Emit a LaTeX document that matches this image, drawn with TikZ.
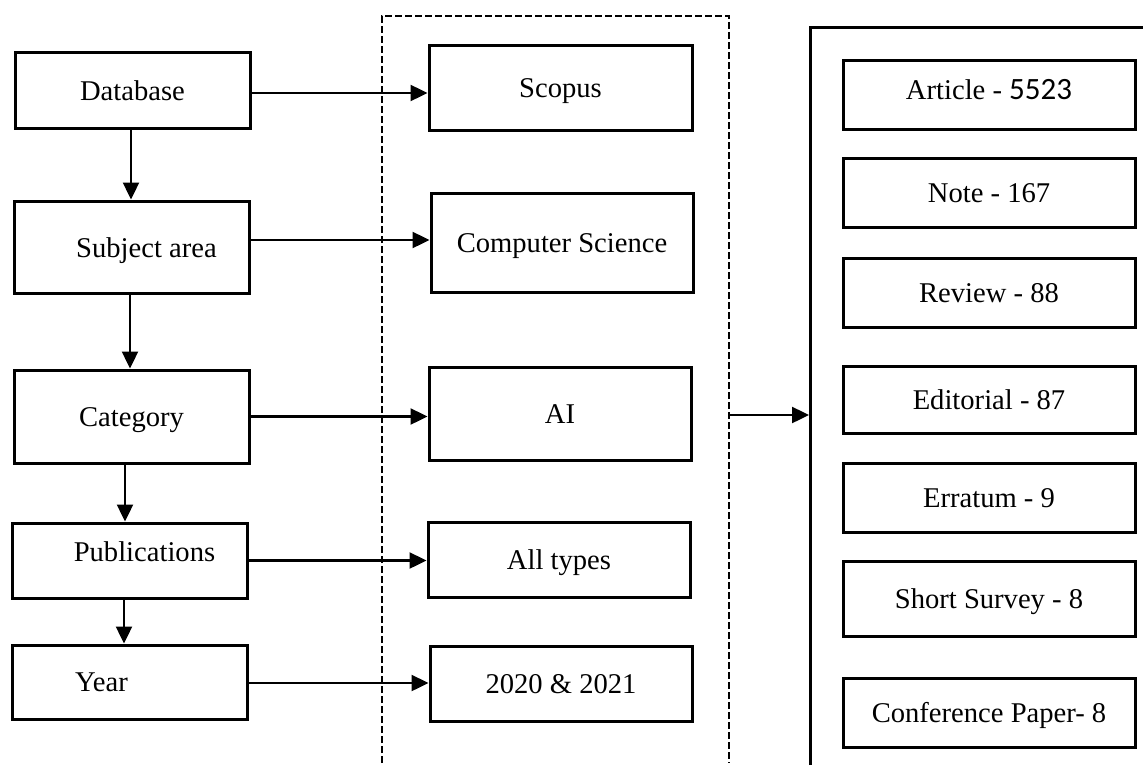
\documentclass[tikz,border=0pt]{standalone}
\usepackage{fontspec}
\setmainfont{Liberation Serif}
\newfontfamily\numfont{Carlito}
\usetikzlibrary{arrows.meta}
\tikzset{
  bx/.style={draw=black, line width=1.5pt, rectangle, inner sep=0pt, text height=9.5pt, text depth=0pt, font=\fontsize{14.3}{17}\selectfont},
  arr/.style={line width=1.2pt, -{Triangle[length=8.5pt,width=8pt]}},
  dsh/.style={line width=1.1pt, dash pattern=on 3.5pt off 1.5pt},
  frame/.style={line width=1.5pt}
}
\begin{document}
\begin{tikzpicture}[x=0.5pt,y=-0.5pt]
\useasboundingbox (0,0) rectangle (1143,765);
% left column
\node[bx, minimum width=117.5pt, minimum height=37.5pt] (db) at (132.5,90.5) {Database};
\node[bx, minimum width=117.5pt, minimum height=46pt] (sub) at (131.5,247) {\raisebox{-0.5pt}{\hspace*{15pt}Subject area}};
\node[bx, minimum width=117.5pt, minimum height=46.5pt] (cat) at (131.5,416.5) {Category};
\node[bx, minimum width=117.5pt, minimum height=37.5pt] (pub) at (129.5,560.5) {\raisebox{4.5pt}{\hspace*{15pt}Publications}};
\node[bx, minimum width=117.5pt, minimum height=37pt] (year) at (129.5,682) {Year\hspace*{28pt}};
% middle column
\node[bx, minimum width=131.5pt, minimum height=42pt] (scopus) at (560.5,88) {Scopus};
\node[bx, minimum width=131pt, minimum height=49.5pt] (cs) at (562,242.5) {Computer Science};
\node[bx, minimum width=131pt, minimum height=46.5pt] (ai) at (560,413.5) {AI};
\node[bx, minimum width=131pt, minimum height=37.5pt] (all) at (559,559.5) {All types};
\node[bx, minimum width=131pt, minimum height=37.5pt] (yrs) at (561,683.5) {2020 \& 2021};
% dashed frame
\coordinate (dBL) at (382,763);
\coordinate (dTL) at (382,16);
\coordinate (dTR) at (729,16);
\coordinate (dBR) at (729,763);
\draw[dsh] (dBL) -- (dTL) -- (dTR) -- (dBR);
% right frame
\coordinate (rBL) at (810,765);
\coordinate (rTL) at (810,28);
\coordinate (rTR) at (1143,28);
\draw[frame] (rBL) -- (rTL) -- (rTR);
% right column
\node[bx, minimum width=146pt, minimum height=34pt] (art) at (989,95) {\raisebox{2.5pt}{Article - {\numfont\fontsize{15.5}{17}\selectfont 5523}}};
\node[bx, minimum width=146pt, minimum height=34.5pt] (note) at (989,192.5) {Note - 167};
\node[bx, minimum width=146pt, minimum height=34.5pt] (rev) at (989,292.5) {Review - 88};
\node[bx, minimum width=146pt, minimum height=33.5pt] (edi) at (989,399.5) {Editorial - 87};
\node[bx, minimum width=146pt, minimum height=34.5pt] (err) at (989,497.5) {Erratum - 9};
\node[bx, minimum width=146pt, minimum height=37.5pt] (ss) at (989,598.5) {Short Survey - 8};
\node[bx, minimum width=146pt, minimum height=34.5pt] (conf) at (989,712.5) {Conference Paper- 8};
% vertical arrows
\draw[arr] ([xshift=-0.75pt]db.south) -- ([xshift=-0.75pt]db.south |- sub.north);
\draw[arr] ([xshift=-0.75pt]sub.south) -- ([xshift=-0.75pt]sub.south |- cat.north);
\draw[arr] ([xshift=-3.25pt]cat.south) -- ([xshift=-3.25pt]cat.south |- pub.north);
\draw[arr] ([xshift=-2.75pt]pub.south) -- ([xshift=-2.75pt]pub.south |- year.north);
% horizontal arrows
\draw[arr] ([yshift=-1.25pt]db.east) -- ([yshift=-1.25pt]db.east -| scopus.west);
\draw[arr] ([yshift=3.5pt]sub.east) -- ([yshift=3.5pt]sub.east -| cs.west);
\draw[arr] (cat.east) -- (cat.east -| ai.west);
\draw[arr] (pub.east) -- (pub.east -| all.west);
\draw[arr] ([yshift=-0.5pt]year.east) -- ([yshift=-0.5pt]year.east -| yrs.west);
% dashed frame to right frame
\coordinate (aS) at (730,415);
\coordinate (aE) at (809,415);
\draw[arr] (aS) -- (aE);
\end{tikzpicture}
\end{document}
